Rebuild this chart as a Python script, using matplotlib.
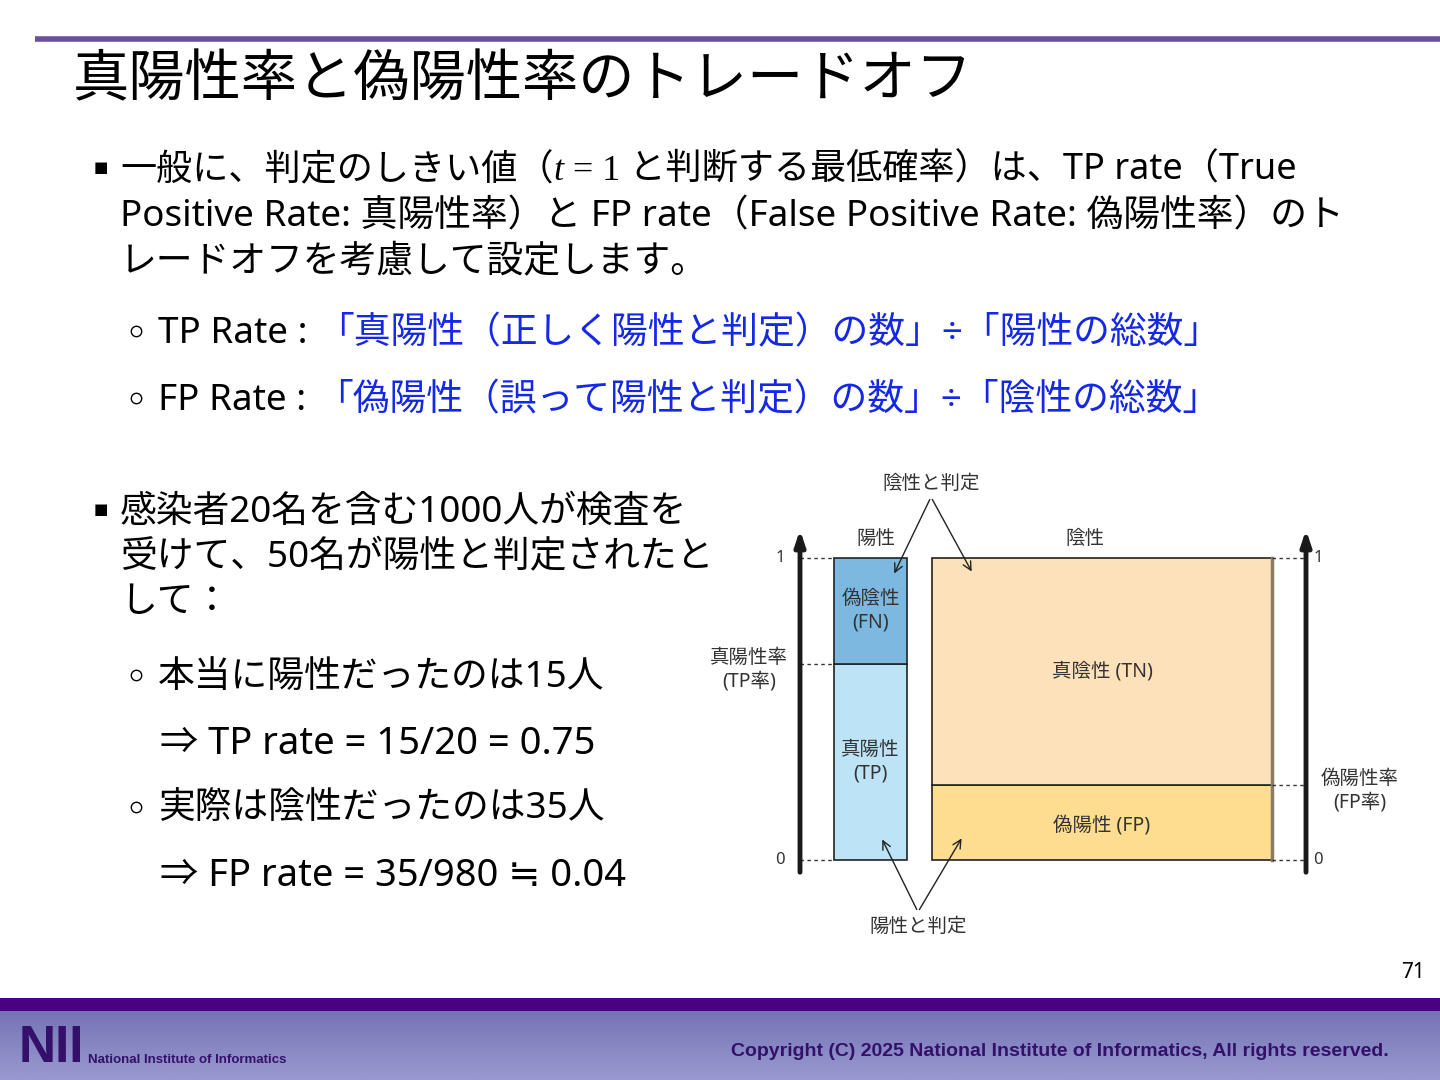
import numpy as np
import matplotlib
matplotlib.use("Agg")
import matplotlib.pyplot as plt
from matplotlib.patches import Rectangle

plt.rcParams['font.family'] = ['Noto Sans', 'Noto Sans CJK JP', 'DejaVu Sans']

# ---------------------------
# データ（図中の割合は画像から読み取り）
# ---------------------------
rate_ticks = [0, 1]
tp_rate = 0.65          # 陽性の柱: 真陽性の割合
fp_rate = 0.25          # 陰性の柱: 偽陽性の割合
group_labels = ["陽性", "陰性"]
pos_parts = ["真陽性\n(TP)", "偽陰性\n(FN)"]
neg_parts = ["偽陽性 (FP)", "真陰性 (TN)"]
pos_colors = ["#bde4f6", "#7cb8e0"]
neg_colors = ["#fddd8f", "#fde1bb"]

title = "真陽性率と偽陽性率のトレードオフ"
bullet1_lines = [
    [("一般に、判定のしきい値（", "k", None), ("t", "k", "it"), (" = 1", "k", "serif"),
     (" と判断する最低確率）は、TP rate（True", "k", None)],
    [("Positive Rate: 真陽性率）と FP rate（False Positive Rate: 偽陽性率）のト", "k", None)],
    [("レードオフを考慮して設定します。", "k", None)],
]
sub_rates = [
    [("TP Rate : ", "k", None), ("「真陽性（正しく陽性と判定）の数」÷「陽性の総数」", "#1428e6", None)],
    [("FP Rate : ", "k", None), ("「偽陽性（誤って陽性と判定）の数」÷「陰性の総数」", "#1428e6", None)],
]
bullet2_lines = ["感染者20名を含む1000人が検査を", "受けて、50名が陽性と判定されたと", "して："]
example_items = ["本当に陽性だったのは15人", "実際は陰性だったのは35人"]
example_results = ["⇒ TP rate = 15/20 = 0.75", "⇒ FP rate = 35/980 ≒ 0.04"]

W, H = 1440, 1080
fig = plt.figure(figsize=(14.4, 10.8), dpi=100)
ax = fig.add_axes([0, 0, 1, 1])
ax.set_xlim(0, W)
ax.set_ylim(H, 0)
ax.axis("off")
renderer = fig.canvas.get_renderer()


def put_runs(x, y, parts, size):
    """文字列を左から順に並べる（色・書体の切替用）"""
    for s, color, style in parts:
        kw = {}
        if style == "it":
            kw = dict(family=["Liberation Serif"], style="italic")
        elif style == "serif":
            kw = dict(family=["Liberation Serif"])
        t = ax.text(x, y, s, fontsize=size, color=color, va="center", ha="left", **kw)
        x += t.get_window_extent(renderer=renderer).width
    return x


def ring(x, y):
    ax.plot(x, y, "o", ms=7.5, mfc="white", mec="black", mew=1.0)


# タイトル
ax.plot([35, W], [39, 39], color="#6b4f9f", lw=4, solid_capstyle="butt")
ax.text(73, 82, title, fontsize=40.5, va="center", ha="left")

# 箇条書き 1
FS = 26.5
dy = 3
ax.text(101, 168, "■", fontsize=11, va="center", ha="center", family=["DejaVu Sans"])
for i, parts in enumerate(bullet1_lines):
    put_runs(120, 168 + dy + 46 * i, parts, FS if i else 26)

for i, parts in enumerate(sub_rates):
    y = 331 + 67 * i
    ring(136, y)
    put_runs(158, y + dy, parts, FS)

# 箇条書き 2
ax.text(101, 510, "■", fontsize=11, va="center", ha="center", family=["DejaVu Sans"])
for i, s in enumerate(bullet2_lines):
    ax.text(120, 510 + dy + 45 * i, s, fontsize=FS, va="center", ha="left")
for i, (item, res) in enumerate(zip(example_items, example_results)):
    y = 675 + 132 * i
    ring(136, y)
    ax.text(158, y + dy, item, fontsize=FS, va="center", ha="left")
    ax.text(160, y + 66 + dy, res, fontsize=27.5, va="center", ha="left")

# ---------------------------
# 図（縦軸は割合 0..1）
# ---------------------------
px_x0, px_x1, px_y0, px_y1 = 700, 1440, 470, 950
y_zero, y_one = 860, 558
scale = y_zero - y_one
dax = fig.add_axes([px_x0 / W, 1 - px_y1 / H, (px_x1 - px_x0) / W, (px_y1 - px_y0) / H])
dax.set_xlim(px_x0, px_x1)
dax.set_ylim((y_zero - px_y1) / scale, (y_zero - px_y0) / scale)
dax.axis("off")
dax.patch.set_alpha(0)


def ry(py):
    return (y_zero - py) / scale


pos_left, pos_w = 834, 73
neg_left, neg_w = 932, 340
ax_l, ax_r = 800, 1306

pos_h = [tp_rate, 1 - tp_rate]
neg_h = [fp_rate, 1 - fp_rate]
dax.bar([pos_left] * 2, pos_h, bottom=[0, tp_rate], width=pos_w, align="edge",
        color=pos_colors, edgecolor="#222222", linewidth=1.2)
dax.bar([neg_left] * 2, neg_h, bottom=[0, fp_rate], width=neg_w, align="edge",
        color=neg_colors, edgecolor="#222222", linewidth=1.2)
dax.plot([neg_left + neg_w, neg_left + neg_w], [0, 1], color="#8a7a66", lw=2.5)

# 軸の矢印
for xa in (ax_l, ax_r):
    dax.annotate("", xy=(xa, ry(527)), xytext=(xa, ry(875)),
                 arrowprops=dict(arrowstyle="-|>,head_length=0.9,head_width=0.3",
                                 color="#1a1a1a", lw=3.5))

# 点線
for yv in [0, 1, tp_rate]:
    dax.plot([ax_l, pos_left], [yv, yv], ls=(0, (2.5, 2.5)), color="#333333", lw=1)
for yv in [0, 1, fp_rate]:
    dax.plot([neg_left + neg_w, ax_r], [yv, yv], ls=(0, (2.5, 2.5)), color="#333333", lw=1)

DFS = 14
gray = "#333333"
for v in rate_ticks:
    dax.text(780, v, str(v), fontsize=DFS - 2, ha="center", va="center", color=gray)
    dax.text(1318, v, str(v), fontsize=DFS - 2, ha="center", va="center", color=gray)

dax.text(pos_left + pos_w / 2 + 5, ry(539), group_labels[0], fontsize=DFS, ha="center", va="center", color=gray)
dax.text(neg_left + neg_w / 2 - 17, ry(539), group_labels[1], fontsize=DFS, ha="center", va="center", color=gray)

dax.text(pos_left + pos_w / 2, tp_rate / 2, pos_parts[0], fontsize=DFS, ha="center",
         va="center", color=gray, linespacing=1.25)
dax.text(pos_left + pos_w / 2, (1 + tp_rate) / 2, pos_parts[1], fontsize=DFS, ha="center",
         va="center", color=gray, linespacing=1.25)
dax.text(neg_left + neg_w / 2, fp_rate / 2 - 0.01, neg_parts[0], fontsize=DFS, ha="center",
         va="center", color=gray)
dax.text(neg_left + neg_w / 2, (1 + fp_rate) / 2, neg_parts[1], fontsize=DFS, ha="center",
         va="center", color=gray)

dax.text(749, tp_rate - 0.02, "真陽性率\n(TP率)", fontsize=DFS, ha="center", va="center",
         color=gray, linespacing=1.25)
dax.text(1360, fp_rate - 0.02, "偽陽性率\n(FP率)", fontsize=DFS, ha="center", va="center",
         color=gray, linespacing=1.25)

# 判定の矢印
dax.text(931, ry(484), "陰性と判定", fontsize=DFS, ha="center", va="center", color=gray)
dax.text(918, ry(927), "陽性と判定", fontsize=DFS, ha="center", va="center", color=gray)
arr = dict(arrowstyle="->,head_length=0.6,head_width=0.3", color="#222222", lw=1)
for tx, ty in [(893, 576), (973, 574)]:
    dax.annotate("", xy=(tx, ry(ty)), xytext=(931, ry(497)), arrowprops=arr)
for tx, ty in [(881, 837), (963, 836)]:
    dax.annotate("", xy=(tx, ry(ty)), xytext=(918, ry(912)), arrowprops=arr)

# ページ番号
ax.text(1413, 972, "71", fontsize=15, ha="center", va="center")

# ---------------------------
# フッター
# ---------------------------
ax.add_patch(Rectangle((0, 998), W, 13, color="#4b0082", lw=0))
grad = np.linspace(0, 1, 64).reshape(-1, 1)
top_c = np.array([0.455, 0.455, 0.71])
bot_c = np.array([0.60, 0.60, 0.82])
img = top_c[None, None, :] * (1 - grad[:, :, None]) + bot_c[None, None, :] * grad[:, :, None]
ax.imshow(img, extent=[0, W, H, 1011], aspect="auto", zorder=0)
ax.set_xlim(0, W)
ax.set_ylim(H, 0)
ax.text(19, 1048, "NII", fontsize=37, fontweight="bold", color="#34106a", va="center", ha="left",
        family=["Liberation Sans"])
ax.text(88, 1060, "National Institute of Informatics", fontsize=9.5, fontweight="bold",
        color="#34106a", va="center", ha="left", family=["Liberation Sans"])
ax.text(1060, 1051, "Copyright (C) 2025 National Institute of Informatics, All rights reserved.",
        fontsize=14, fontweight="bold", color="#34106a", va="center", ha="center",
        family=["Liberation Sans"])

fig.savefig("out.png", dpi=100)
